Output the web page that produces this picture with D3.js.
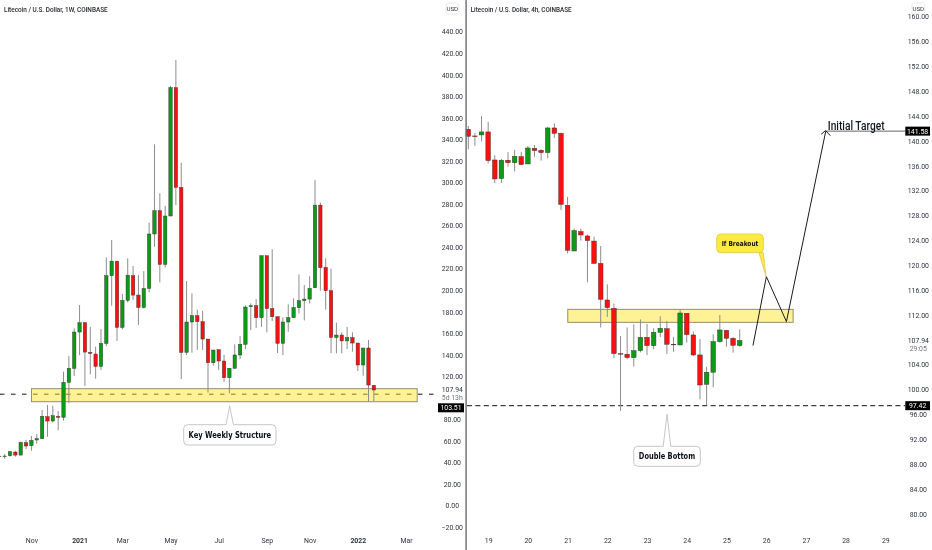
<!DOCTYPE html>
<html><head><meta charset="utf-8">
<script src="https://d3js.org/d3.v7.min.js"></script>
<style>
html,body{margin:0;padding:0;background:#fff;overflow:hidden}
svg{filter:blur(.3px)}
text{font-family:Roboto,"Liberation Sans",sans-serif}
.axis path,.axis line{display:none}
.axis text{font-family:Roboto,sans-serif;font-size:6.9px;fill:#2f333d}
</style></head><body><svg id="c" width="932" height="550"></svg>
<script>
// ---------- Weekly chart (left) ----------
const weeklyOpen =[46,46.1,46.4,49.8,47,58.5,55.7,61,62.2,82.6,78.6,82.9,82,114.5,127.5,161.2,169.9,142.3,140.8,129.3,150.7,213.5,227,165.5,190.6,213.5,195.5,184,201.7,252.2,273.8,224,268.9,388,295.5,142.3,170.5,176.4,170.8,154.7,132.7,144.8,134.3,118.8,127.5,139.9,149.8,184.7,185.6,174.5,232,183,175.4,150.7,170.5,174.5,183.8,190.3,191.8,202.3,279,221.2,199.6,156.2,158.4,153,156,151,130.6,146.4,111.7];
const weeklyHigh =[46.5,48,51,51,59.4,61,64.7,66.5,88.8,93.4,92.8,87.9,124.4,139,164.6,186.3,169.9,166,147.6,164,230.5,246.6,227,196.5,229.6,222.5,214,217.8,262.7,335.4,290,278.5,389.5,413.7,318.4,208.5,197,182,181,154.7,144.5,144.8,140,127.5,149.7,157.5,186,187.8,191.8,232,232,238,175.4,174.8,186.9,192.5,214.7,204.8,213,302.3,281.5,229.6,220,170,161,166,161,151,146.4,153.8,111.7];
const weeklyLow  =[45.7,43.6,45.5,45.5,46.7,52.6,51,57.5,62,64,77.4,70,79,95.3,120.4,139.9,111,122,118,126,148,185.6,153,163.7,188.7,191,167.7,183,198,240.4,207.3,221,268.9,279,117.6,139.9,142,144.5,144.5,105,130,126,115,104.3,127.5,136,145.4,163,165,166,160.9,171.4,141.7,139.9,161.5,174.5,178.5,172,187.8,202.3,199.6,182,141.7,141.4,141.4,145.4,143,125,120.7,96.5,97];
const weeklyClose=[46,46.1,50.1,47,58.8,55.4,60.6,62.2,83,78.6,83.5,82,114.5,127.5,161.2,169.9,142.6,141.4,129.3,150.7,213.5,227,165.5,190.6,214,195.5,184,201.7,252.2,273.8,224,268.9,388,295.5,142.3,170.5,176.4,170.8,154.7,132.7,144.5,134.3,118.8,127.5,139.9,149.8,184.4,185.6,174.5,232,183,175.4,150.7,170.5,174.5,183.8,190.3,191.8,201.7,279,221,199.6,156.2,158.4,153,156,151,130.6,146.4,112,107.4];
const weeklyPriceTicks=[440,420,400,380,360,340,320,300,280,260,240,220,200,180,160,140,120,80,60,40,20,0,-20];
const weeklyTimeIdx=[5,14,22,31,40,49,57,66,75];
const weeklyTimeLabels=["Nov","2021","Mar","May","Jul","Sep","Nov","2022","Mar"];
const weeklyBoldLabels=["2021","2022"];
const weeklyZone=[108.6,96.5], weeklyZoneIdx=[5,77.1];
const weeklyLevel=103.51, weeklyLast=107.94;

// ---------- 4h chart (right) ----------
const h4Open =[141.88,140.8,140.97,141.45,136.94,133.94,136.9,136.5,137.48,136.3,138.82,138.5,138.12,142.09,141.23,129.65,122.3,125.42,124.72,123.9,120.3,114.42,113.08,105.8,105.7,105.15,106.27,108.42,107.08,109.22,109.8,107.3,107.18,112.28,108.8,105.58,100.86,102.8,107.72,109.55,108.26,107.08];
const h4High =[142.41,141.3,144,143.06,137.7,137.1,138.2,138.55,138.23,139.2,139.36,138.66,142.3,142.84,141.33,131,125.9,125.9,124.93,124.6,123.1,116.94,113.83,108.63,110,110.5,111.3,110.56,109.87,111.8,111.05,108.5,112.8,112.28,109.33,108.15,103.7,108.9,112,109.55,108.47,109.7];
const h4Low  =[138.66,139.2,139.95,136.4,133.2,133.24,135.87,135.1,136.19,136.3,137.48,136.84,137.2,140.5,128.9,121.93,122.3,123.97,117.27,120.3,110,111.69,105.04,96.57,104.9,103.7,106,105.58,106.5,108.47,105.74,106.1,107.18,107.56,105.4,98.44,97.53,100.4,107.56,106.9,105.95,106.9];
const h4Close=[140.75,140.7,141.45,136.84,133.89,136.89,136.5,137.53,136.19,138.87,138.44,138.12,142.09,141.23,129.8,122.41,125.58,124.88,123.97,120.3,114.53,113.19,105.8,105.7,105.15,106.27,108.42,107.08,109.22,109.87,107.3,107.2,112.33,108.85,105.58,100.75,102.8,107.72,109.6,108.26,107.13,107.9];
const h4PriceTicks=[160,156,152,148,144,140,136,132,128,124,120,116,112,104,100,96,92,88,84,80];
const h4TimeIdx=[3,9,15,21,27,33,39,45,51,57,63];
const h4TimeLabels=["19","20","21","22","23","24","25","26","27","28","29"];
const h4Zone=[112.92,110.83], h4ZoneIdx=[15.03,49.07];
const h4Level=97.42, h4Target=141.58, h4Last=107.94;
const h4PathIdx=[43,45.03,48.06,54];
const h4PathPrice=[107.08,118.18,110.94,141.58];

const UP="#0a9c12", DOWN="#fb0f0f";
const svg=d3.select("#c");

function panel(cfg){
  const g=svg.append("g");
  const {x,y,o,h,l,c,start,bw}=cfg;
  g.append("line").attr("x1",cfg.dash[0]).attr("x2",cfg.dash[1]).attr("y1",y(cfg.level)).attr("y2",y(cfg.level))
    .attr("stroke","#111").attr("stroke-width",1).attr("stroke-dasharray",cfg.dashArr);
  const zx0=x(cfg.zoneIdx[0]),zx1=x(cfg.zoneIdx[1]),zy0=y(cfg.zone[0]),zy1=y(cfg.zone[1]);
  g.append("rect").attr("x",zx0).attr("y",zy0).attr("width",zx1-zx0).attr("height",zy1-zy0)
    .attr("fill","#ffe32e").attr("fill-opacity",.5).attr("stroke","#85836a").attr("stroke-width",.9);
  const idx=d3.range(o.length);
  g.selectAll("line.w").data(idx).join("line").attr("class","w")
    .attr("x1",i=>x(i+start)).attr("x2",i=>x(i+start)).attr("y1",i=>y(h[i])).attr("y2",i=>y(l[i]))
    .attr("stroke","#8d8d8d").attr("stroke-width",1);
  g.selectAll("rect.b").data(idx).join("rect").attr("class","b")
    .attr("x",i=>x(i+start)-bw/2).attr("width",bw)
    .attr("y",i=>y(Math.max(o[i],c[i])))
    .attr("height",i=>Math.max(.6,Math.abs(y(o[i])-y(c[i]))))
    .attr("fill",i=>c[i]>=o[i]?UP:DOWN).attr("stroke","#333").attr("stroke-width",.45);
  const ay=d3.axisRight(y).tickValues(cfg.priceTicks).tickSize(0).tickFormat(d3.format(".2f"));
  const ya=g.append("g").attr("class","axis").attr("transform",`translate(${cfg.axisX},0)`).call(ay);
  ya.selectAll("text").attr("x",0).attr("text-anchor","middle");
  const ax=d3.axisBottom(x).tickValues(cfg.timeIdx).tickSize(0).tickFormat((d,i)=>cfg.timeLabels[i]);
  const xa=g.append("g").attr("class","axis").attr("transform","translate(0,538)").call(ax);
  xa.selectAll("text").attr("y",0).attr("dy","0.71em")
    .style("font-weight",(d,i)=>(cfg.bold||[]).includes(cfg.timeLabels[i])?700:400);
  const lab=(t,yy,col,fs)=>g.append("text").attr("x",cfg.axisX).attr("y",yy).attr("text-anchor","middle")
     .attr("dy",".35em").attr("fill",col).attr("font-size",fs).text(t);
  lab(d3.format(".2f")(cfg.last),y(cfg.last),"#2f333d","6.9px");
  lab(cfg.countdown,y(cfg.last)+8.1,"#71747c","6.9px");
  const ty=y(cfg.level);
  const tagY=cfg.tagY!==undefined?cfg.tagY:ty-4.5;
  g.append("rect").attr("x",cfg.tagX).attr("y",tagY).attr("width",cfg.tagW).attr("height",9).attr("fill","#000");
  g.append("text").attr("x",cfg.tagX+cfg.tagW/2).attr("y",tagY+4.6).attr("dy",".35em")
    .attr("text-anchor","middle").attr("fill","#fff").attr("font-size","6.9px").text(d3.format(".2f")(cfg.level));
  g.append("rect").attr("x",cfg.axisX-6.4).attr("y",3).attr("width",12.8).attr("height",11).attr("rx",2)
    .attr("fill","#fff").attr("stroke","#e0e0e0").attr("stroke-width",.7);
  g.append("text").attr("x",cfg.axisX).attr("y",8.6).attr("dy",".35em").attr("text-anchor","middle")
    .attr("font-size","6.2px").attr("fill","#2f333d").text("USD");
  g.append("text").attr("x",cfg.titleX).attr("y",9.5).attr("dy",".35em").attr("font-size","7.4px").attr("font-weight",500)
    .attr("fill","#1f222b").text(cfg.title).attr("textLength",cfg.titleW).attr("lengthAdjust","spacingAndGlyphs");
  return g;
}
function callout(box,tail,txt,txtW,fill,stroke,fs){
  const [x0,y0,x1,y1]=box,r=4;
  const p=d3.path();
  p.moveTo(x0+r,y0);
  if(tail.side==="top"){p.lineTo(tail.a,y0);p.lineTo(tail.tx,tail.ty);p.lineTo(tail.b,y0);}
  p.lineTo(x1-r,y0);p.arcTo(x1,y0,x1,y0+r,r);
  p.lineTo(x1,y1-r);p.arcTo(x1,y1,x1-r,y1,r);
  if(tail.side==="bottom"){p.lineTo(tail.b,y1);p.lineTo(tail.tx,tail.ty);p.lineTo(tail.a,y1);}
  p.lineTo(x0+r,y1);p.arcTo(x0,y1,x0,y1-r,r);
  p.lineTo(x0,y0+r);p.arcTo(x0,y0,x0+r,y0,r);p.closePath();
  svg.append("path").attr("d",p.toString()).attr("fill",fill).attr("stroke",stroke).attr("stroke-width",.8);
  svg.append("text").attr("x",(x0+x1)/2).attr("y",(y0+y1)/2).attr("dy",".35em").attr("text-anchor","middle")
    .style("font-family","'DejaVu Sans',sans-serif").attr("font-size",fs).attr("font-weight",700).attr("fill","#0c0f18").text(txt)
    .attr("textLength",txtW).attr("lengthAdjust","spacingAndGlyphs");
}

const xW=d3.scaleLinear().domain([0,69]).range([4.67,373.85]);
const yW=d3.scaleLinear().domain([0,440]).range([505.7,31.7]);
const xH=d3.scaleLinear().domain([0,41]).range([468.3,739.7]);
const yH=d3.scaleLinear().domain([120,160]).range([265.3,16.6]);

panel({x:xW,y:yW,o:weeklyOpen,h:weeklyHigh,l:weeklyLow,c:weeklyClose,start:-1,bw:3.4,
  level:weeklyLevel,dash:[0,438],dashArr:"4.5 6.5",zone:weeklyZone,zoneIdx:weeklyZoneIdx,
  priceTicks:weeklyPriceTicks,axisX:452.3,timeIdx:weeklyTimeIdx,timeLabels:weeklyTimeLabels,bold:weeklyBoldLabels,
  last:weeklyLast,countdown:"5d 13h",tagX:438,tagY:403.3,tagW:26,title:"Litecoin / U.S. Dollar, 1W, COINBASE",titleX:4,titleW:103.7});
panel({x:xH,y:yH,o:h4Open,h:h4High,l:h4Low,c:h4Close,start:0,bw:4.6,
  level:h4Level,dash:[467,905],dashArr:"5 3.4",zone:h4Zone,zoneIdx:h4ZoneIdx,
  priceTicks:h4PriceTicks,axisX:918.3,timeIdx:h4TimeIdx,timeLabels:h4TimeLabels,
  last:h4Last,countdown:"29:05",tagX:905.3,tagW:24.7,title:"Litecoin / U.S. Dollar, 4h, COINBASE",titleX:470.7,titleW:101});

svg.append("rect").attr("x",465.4).attr("y",0).attr("width",1.4).attr("height",550).attr("fill","#6b6e78");

const tx=xH(54), ty=yH(h4Target);
svg.append("line").attr("x1",tx).attr("x2",905).attr("y1",ty).attr("y2",ty).attr("stroke","#555").attr("stroke-width",.9);
svg.append("path").attr("d",d3.line().x(d=>xH(d[0])).y(d=>yH(d[1]))(h4PathIdx.map((d,i)=>[d,h4PathPrice[i]])))
  .attr("fill","none").attr("stroke","#1a1a1a").attr("stroke-width",1);
svg.append("path").attr("d",`M${tx-4.6},${ty+3.2}L${tx-.2},${ty-.6}L${tx+4.6},${ty+4.6}`)
  .attr("fill","none").attr("stroke","#1a1a1a").attr("stroke-width",1);
svg.append("rect").attr("x",905.3).attr("y",ty-4.5).attr("width",24.7).attr("height",9).attr("fill","#000");
svg.append("text").attr("x",917.6).attr("y",ty).attr("dy",".35em").attr("text-anchor","middle").attr("fill","#fff").attr("font-size","6.9px").text(d3.format(".2f")(h4Target));
svg.append("text").attr("x",827.8).attr("y",130.4).attr("font-size","12.5px").attr("font-weight",500).attr("fill","#131722").text("Initial Target")
  .attr("textLength",56.8).attr("lengthAdjust","spacingAndGlyphs");

callout([183.7,424.7,276,445],{side:"top",a:226,b:233.4,tx:229.7,ty:406},"Key Weekly Structure",82.5,"#fff","#b8b8b8","8.4px");
callout([633.7,446.3,700.3,466.3],{side:"top",a:663.2,b:670.8,tx:667,ty:414.3},"Double Bottom",56.3,"#fff","#b8b8b8","8.4px");
callout([716.7,234,763.3,252.7],{side:"bottom",a:759,b:763.3,tx:766,ty:276.7},"If Breakout",36.7,"#ffeb3b","#d8c94c","7px");
</script></body></html>
